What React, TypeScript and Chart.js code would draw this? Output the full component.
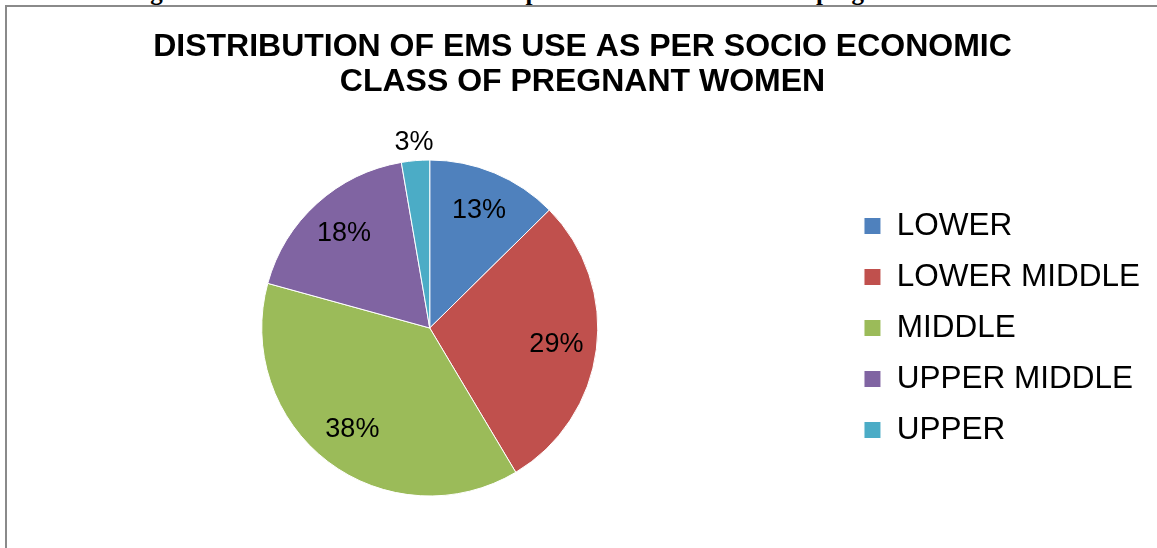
import React, { useEffect, useRef } from "react";
import { Chart, registerables } from "chart.js";

Chart.register(...registerables);

const categories = ["LOWER", "LOWER MIDDLE", "MIDDLE", "UPPER MIDDLE", "UPPER"];
const shares = [12.6, 28.8, 37.8, 18.0, 2.7];
const colors = ["#4F81BD", "#C0504D", "#9BBB59", "#8064A2", "#4BACC6"];
const titleLines = ["DISTRIBUTION OF EMS USE AS PER SOCIO ECONOMIC", "CLASS OF PREGNANT WOMEN"];
const caption = "Figure 3: Distribution of EMS use as per socio economic class of pregnant women";

const FONT = "'Liberation Sans', Arial, Helvetica, sans-serif";

const pctLabels = {
  id: "pctLabels",
  afterDatasetsDraw(chart: any) {
    const ctx = chart.ctx;
    const meta = chart.getDatasetMeta(0);
    const data = chart.data.datasets[0].data as number[];
    const total = data.reduce((a, b) => a + b, 0);
    ctx.save();
    ctx.font = `27px ${FONT}`;
    ctx.fillStyle = "#000";
    ctx.textAlign = "center";
    ctx.textBaseline = "middle";
    meta.data.forEach((arc: any, i: number) => {
      const pct = (data[i] / total) * 100;
      const p = arc.getProps(["x", "y", "startAngle", "endAngle", "outerRadius"], true);
      const mid = (p.startAngle + p.endAngle) / 2;
      const d = pct < 5 ? p.outerRadius + 18 : p.outerRadius * 0.76;
      ctx.fillText(Math.round(pct) + "%", p.x + Math.cos(mid) * d, p.y + Math.sin(mid) * d);
    });
    ctx.restore();
  },
};

export default function App() {
  const ref = useRef<HTMLCanvasElement | null>(null);

  useEffect(() => {
    if (!ref.current) return;
    const chart = new Chart(ref.current, {
      type: "pie",
      data: {
        labels: categories,
        datasets: [
          {
            data: shares,
            backgroundColor: colors,
            borderColor: "#ffffff",
            borderWidth: 1,
          },
        ],
      },
      options: {
        responsive: false,
        animation: false,
        layout: { padding: { left: 15, right: 26, top: 0, bottom: 63.5 } },
        plugins: {
          title: {
            display: true,
            text: titleLines,
            color: "#000",
            font: { family: FONT, size: 32, weight: "bold", lineHeight: 35 / 32 },
            padding: { top: 29.5, bottom: 60 },
          },
          legend: {
            position: "right",
            fullSize: false,
            labels: {
              boxWidth: 17,
              boxHeight: 17,
              padding: 19.5,
              color: "#000",
              font: { family: FONT, size: 31.5 },
            },
          },
          tooltip: { enabled: false },
        },
      },
      plugins: [pctLabels],
    } as any);
    return () => chart.destroy();
  }, []);

  return (
    <div
      style={{
        position: "fixed",
        left: 0,
        top: 0,
        width: 1157,
        height: 548,
        overflow: "hidden",
        background: "#fff",
      }}
    >
      <div
        style={{
          position: "absolute",
          left: 128,
          top: -21,
          whiteSpace: "nowrap",
          font: "bold 25px 'Liberation Serif', 'Times New Roman', serif",
          lineHeight: "25px",
          color: "#000",
        }}
      >
        {caption}
      </div>
      <div
        style={{
          position: "absolute",
          left: 5,
          top: 5,
          width: 2000,
          height: 2000,
          borderTop: "2px solid #8a8a8a",
          borderLeft: "2px solid #8a8a8a",
        }}
      />
      <canvas
        ref={ref}
        width={1176}
        height={560}
        style={{ position: "absolute", left: 0, top: 0, display: "block" }}
      />
    </div>
  );
}
